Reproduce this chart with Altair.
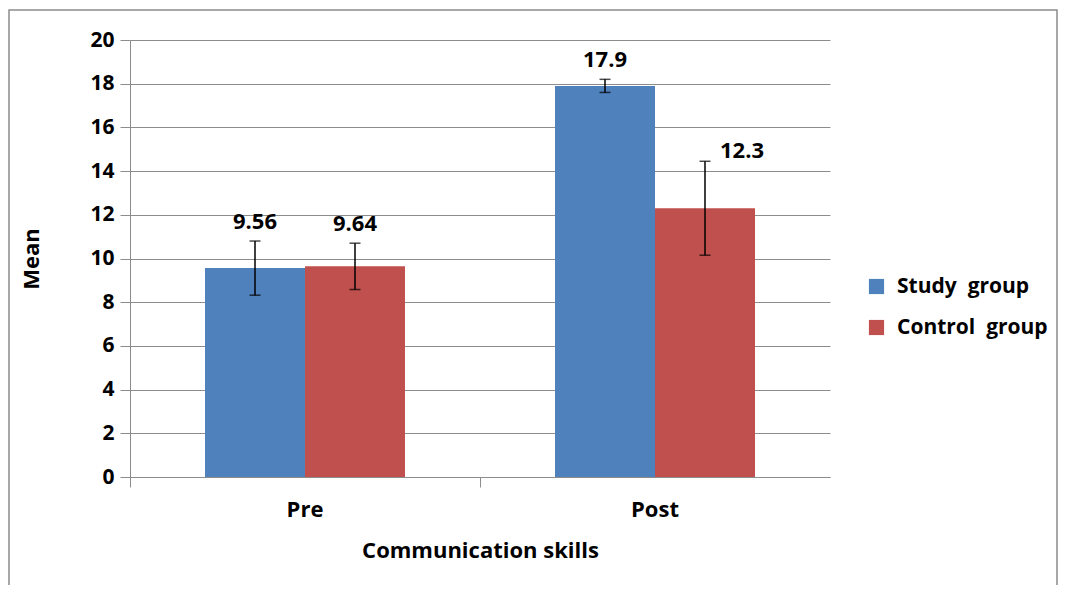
import altair as alt
import pandas as pd

phases = ["Pre", "Pre", "Post", "Post"]
groups = ["Study\u00a0 group", "Control\u00a0 group", "Study\u00a0 group", "Control\u00a0 group"]
means = [9.56, 9.64, 17.9, 12.3]
errors = [1.24, 1.06, 0.3, 2.15]
labels = ["9.56", "9.64", "17.9", "12.3"]

phase_order = ["Pre", "Post"]
group_order = ["Study\u00a0 group", "Control\u00a0 group"]
colors = ["#4F81BD", "#C0504D"]

df = pd.DataFrame({"phase": phases, "group": groups, "mean": means,
                   "err": errors, "label": labels})
df["lo"] = df["mean"] - df["err"]
df["hi"] = df["mean"] + df["err"]

FONT = "Open Sans"
GRID = "#8c8c8c"
FS = 21
TS = 22

x_enc = alt.X("phase:N", sort=phase_order,
              scale=alt.Scale(paddingInner=0.4286, paddingOuter=0.2143),
              axis=alt.Axis(title="Communication skills", labelAngle=0,
                            labelFontSize=TS, labelFontWeight="bold", labelColor="black",
                            labelPadding=12, tickSize=10, tickColor=GRID, bandPosition=-0.375,
                            domainColor=GRID, titleFontSize=TS, titleFontWeight="bold",
                            titleColor="black", titlePadding=20, labelFont=FONT, titleFont=FONT))
xo = alt.XOffset("group:N", sort=group_order)

base = alt.Chart(df)

bars = base.mark_bar().encode(
    x=x_enc, xOffset=xo,
    y=alt.Y("mean:Q", scale=alt.Scale(domain=[0, 20]),
            axis=alt.Axis(title="Mean", values=list(range(0, 21, 2)),
                          labelFontSize=FS, labelFontWeight="bold", labelColor="black",
                          labelPadding=6, tickSize=10, tickColor=GRID, domainColor=GRID,
                          gridColor=GRID, titleFontSize=TS, titleFontWeight="bold",
                          titleColor="black", titlePadding=46, labelFont=FONT, titleFont=FONT)),
    color=alt.Color("group:N", sort=group_order,
                    scale=alt.Scale(domain=group_order, range=colors),
                    legend=alt.Legend(title=None, orient="none", legendX=736, legendY=236,
                                      symbolType="square", symbolSize=230, symbolStrokeWidth=0,
                                      labelFontSize=FS, labelFontWeight="bold", labelColor="black",
                                      labelFont=FONT, labelOffset=10, rowPadding=19,
                                      labelLimit=300)),
)

rules = base.mark_rule(color="black", strokeWidth=1.5).encode(
    x=alt.X("phase:N", sort=phase_order), xOffset=xo,
    y="lo:Q", y2="hi:Q")

caps_lo = base.mark_tick(color="black", size=11, thickness=1.5, orient="horizontal").encode(
    x=alt.X("phase:N", sort=phase_order), xOffset=xo, y="lo:Q")
caps_hi = base.mark_tick(color="black", size=11, thickness=1.5, orient="horizontal").encode(
    x=alt.X("phase:N", sort=phase_order), xOffset=xo, y="hi:Q")

text_main = base.transform_filter(alt.datum.label != "12.3").mark_text(
    baseline="bottom", dy=-7, fontSize=TS, fontWeight="bold", font=FONT, color="black"
).encode(x=alt.X("phase:N", sort=phase_order), xOffset=xo, y="hi:Q", text="label:N")

text_side = base.transform_filter(alt.datum.label == "12.3").mark_text(
    baseline="bottom", dy=2, dx=37, fontSize=TS, fontWeight="bold", font=FONT, color="black"
).encode(x=alt.X("phase:N", sort=phase_order), xOffset=xo, y="hi:Q", text="label:N")

frame = alt.Chart(alt.Data(values=[{}])).mark_rect(
    fill=None, stroke="#8c8c8c", strokeWidth=1.5
).encode(x=alt.value(-121), x2=alt.value(927), y=alt.value(-30), y2=alt.value(620))

chart = alt.layer(frame, bars, rules, caps_lo, caps_hi, text_main, text_side).properties(
    width=700, height=437,
    autosize=alt.AutoSizeParams(type="none"),
    padding={"left": 122, "top": 32, "right": 229, "bottom": 108},
).configure_view(stroke=None).configure_axisX(grid=False)

chart.save("out.html", embed_options={"renderer": "svg", "actions": False})
